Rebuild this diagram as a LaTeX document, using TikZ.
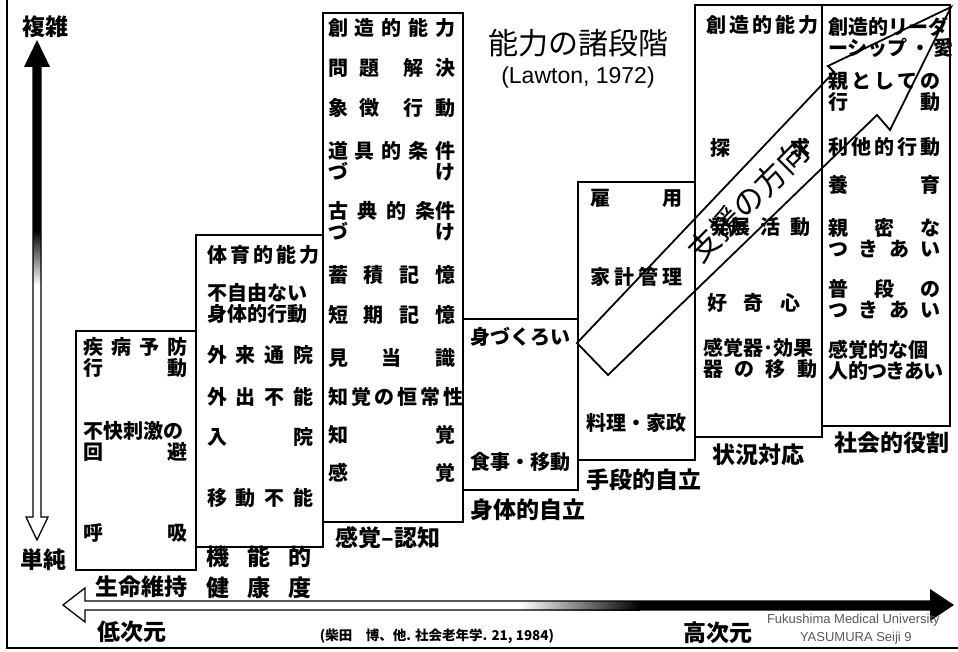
\documentclass[tikz,border=0pt]{standalone}
\usepackage{fontspec}
\setmainfont{Noto Sans CJK JP}
\newfontfamily\latinsf{Liberation Sans}
\usepackage{tikz}
\newcommand{\jline}[2]{\makebox[#1pt][s]{#2}}
\tikzstyle{stage}=[draw, line width=1.6pt]
\tikzstyle{axis}=[draw, line width=1.3pt, line join=miter]
\tikzstyle{item}=[anchor=west, align=left, font=\fontsize{20}{21}\selectfont\bfseries]
\tikzstyle{level}=[font=\fontsize{23}{23}\selectfont\bfseries]

\begin{document}
\begin{tikzpicture}[x=1pt, y=-1pt,
                    every node/.style={inner sep=0, outer sep=0}]
        \useasboundingbox (0,0) rectangle (958,652);
        \draw[line width=2pt] (7,0) -- (7,648) -- (958,648);
        % stages
        \draw[stage] (76,331) rectangle (196,570);
        \draw[stage] (196,235) rectangle (323,547);
        \draw[stage] (323,13) rectangle (463,522);
        \draw[stage] (463,319) rectangle (578,490);
        \draw[stage] (578,182) rectangle (695,460);
        \draw[stage] (695,5) rectangle (822,437);
        \draw[stage] (822,5) rectangle (950,426);
        % vertical axis
        \fill (37,40) -- (50,67) -- (24,67) -- cycle;
        \fill (33,67) rectangle (41,230);
        \shade[top color=black, bottom color=white] (33,230) rectangle (41,285);
        \draw[axis] (33,67) -- (33,517) -- (26,517) -- (37,540) -- (48,517) -- (41,517) -- (41,67);
        % horizontal axis
        \shade[left color=white, right color=black] (520,601) rectangle (640,610);
        \fill (640,601) rectangle (930,610);
        \fill (930,589) -- (954,605) -- (930,621) -- cycle;
        \draw[axis] (930,601) -- (85,601) -- (85,588) -- (63,605) -- (85,622) -- (85,610) -- (930,610);
        % box texts
        \node[item] (b1a) at (83,357) {\jline{104}{疾 病 予 防}\\\jline{104}{行 動}};
        \node[item] (b1b) at (83,441) {\jline{104}{不快刺激の}\\\jline{104}{回 避}};
        \node[item] (b1c) at (83,533) {\jline{104}{呼 吸}};
        \node[item] (b2a) at (207,255) {\jline{106}{体 育 的 能 力}};
        \node[item] (b2b) at (207,303) {\jline{106}{不自由ない}\\\jline{106}{身体的行動}};
        \node[item] (b2c) at (207,355) {\jline{106}{外 来 通 院}};
        \node[item] (b2d) at (207,397) {\jline{106}{外 出 不 能}};
        \node[item] (b2e) at (207,437) {\jline{106}{入 院}};
        \node[item] (b2f) at (207,498) {\jline{106}{移 動 不 能}};
        \node[item] (b3a) at (328,28) {\jline{127}{創 造 的 能 力}};
        \node[item] (b3b) at (328,68) {\jline{127}{問 題 \ 解 決}};
        \node[item] (b3c) at (328,108) {\jline{127}{象 徴 \ 行 動}};
        \node[item] (b3d) at (328,161) {\jline{127}{道 具 的 条 件}\\\jline{127}{づ け}};
        \node[item] (b3e) at (328,221) {\jline{127}{古 典 的 条件}\\\jline{127}{づ け}};
        \node[item] (b3f) at (328,275) {\jline{127}{蓄 積 記 憶}};
        \node[item] (b3g) at (328,315) {\jline{127}{短 期 記 憶}};
        \node[item] (b3h) at (328,358) {\jline{127}{見 当 識}};
        \node[item] (b3i) at (328,397) {\jline{127}{知 覚 の 恒 常 性}};
        \node[item] (b3j) at (328,435) {\jline{127}{知 覚}};
        \node[item] (b3k) at (328,473) {\jline{127}{感 覚}};
        \node[item, anchor=center] (b4a) at (520,337) {身づくろい};
        \node[item, anchor=center] (b4b) at (520,462) {食事・移動};
        \node[item] (b5a) at (590,198) {\jline{92}{雇 用}};
        \node[item] (b5b) at (590,277) {\jline{92}{家 計 管 理}};
        \node[item, anchor=center] (b5c) at (636,423) {料理・家政};
        \node[item] (b6a) at (706,25) {\jline{112}{創 造 的 能 力}};
        \node[item] (b6b) at (710,148) {\jline{100}{探 求}};
        \node[item] (b6c) at (710,227) {\jline{100}{発展 活 動}};
        \node[item] (b6d) at (707,303) {\jline{93}{好 奇 心}};
        \node[item] (b6e) at (703,358) {\jline{114}{感覚器･効果}\\\jline{114}{器 の 移 動}};
        \node[item] (b7a) at (828,37) {\jline{120}{創造的リーダ}\\\jline{120}{ーシップ ・ 愛}};
        \node[item] (b7b) at (828,92) {\jline{112}{親 と し て の}\\\jline{112}{行 動}};
        \node[item] (b7c) at (828,147) {\jline{112}{利 他 的 行 動}};
        \node[item] (b7d) at (828,185) {\jline{112}{養 育}};
        \node[item] (b7e) at (828,238) {\jline{112}{親 密 な}\\\jline{112}{つ き あ い}};
        \node[item] (b7f) at (828,299) {\jline{112}{普 段 の}\\\jline{112}{つ き あ い}};
        \node[item] (b7g) at (828,360) {\jline{112}{感覚的な個}\\\jline{112}{\addfontfeatures{RawFeature=+palt}人的つきあい}};
        % support direction
        \draw[line width=1.8pt, line join=miter] (577,343) -- (608,375) -- (877,115) -- (890,130) -- (951,7) -- (828,66) -- (834,72) -- cycle;
        \node[rotate=45, font=\fontsize{31}{31}\selectfont] (dir) at (748,201) {支援の方向};
        % levels
        \node[level] (complex) at (45,27) {複雑};
        \node[level] (simple) at (43,560) {単純};
        \node[level] (l1) at (141,587) {生命維持};
        \node[level] (l2a) at (259,557) {\jline{105}{機 能 的}};
        \node[level] (l2b) at (259,588) {\jline{105}{健 康 度}};
        \node[level] (l3) at (388,538) {感覚–認知};
        \node[level] (l4) at (528,510) {身体的自立};
        \node[level] (l5) at (644,480) {手段的自立};
        \node[level] (l6) at (758,455) {状況対応};
        \node[level] (l7) at (892,443) {社会的役割};
        \node[level] (low) at (132,632) {低次元};
        \node[level] (high) at (718,633) {高次元};
        \node[font=\fontsize{30}{30}\selectfont] (title) at (578,43) {能力の諸段階};
        \node[font=\latinsf\fontsize{23}{23}\selectfont] (ref) at (578,78) {(Lawton, 1972)};
        \node[font=\fontsize{13.5}{14}\selectfont\bfseries] (cite) at (437,636) {(柴田　博、他. 社会老年学. 21, 1984)};
        \node[anchor=west, text=black!65, font=\latinsf\fontsize{13}{13}\selectfont] (fmu) at (767,620) {Fukushima Medical University};
        \node[anchor=west, text=black!65, font=\latinsf\fontsize{13}{13}\selectfont] (ysm) at (800,638) {YASUMURA Seiji 9};
    \end{tikzpicture}
\end{document}
